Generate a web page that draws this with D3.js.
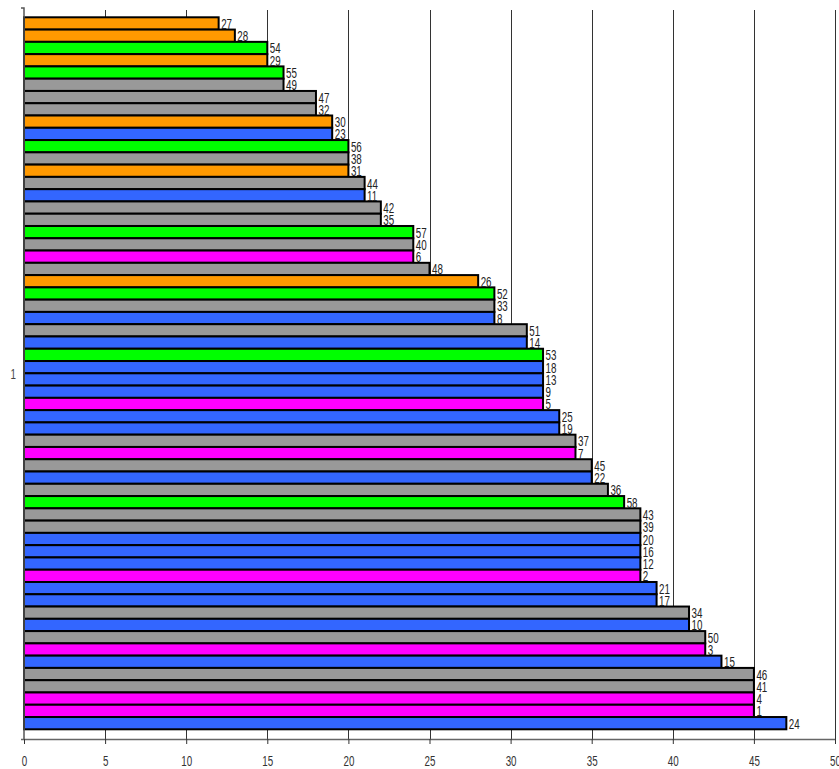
<!DOCTYPE html>
<html>
<head>
<meta charset="utf-8">
<script src="https://cdn.jsdelivr.net/npm/d3@7"></script>
<style>
  html, body { margin: 0; padding: 0; background: #fff; }
  svg { display: block; }
  text { font-family: "Liberation Sans", Arial, sans-serif; }
</style>
</head>
<body>
<svg id="chart" width="839" height="769"></svg>
<script>
// ---- data (top to bottom) ----
const categories = ["1"];
const barLabels = [27, 28, 54, 29, 55, 49, 47, 32, 30, 23, 56, 38, 31, 44, 11, 42, 35, 57, 40, 6,
  48, 26, 52, 33, 8, 51, 14, 53, 18, 13, 9, 5, 25, 19, 37, 7, 45, 22, 36, 58,
  43, 39, 20, 16, 12, 2, 21, 17, 34, 10, 50, 3, 15, 46, 41, 4, 1, 24];
const barValues = [12, 13, 15, 15, 16, 16, 18, 18, 19, 19, 20, 20, 20, 21, 21, 22, 22, 24, 24, 24,
  25, 28, 29, 29, 29, 31, 31, 32, 32, 32, 32, 32, 33, 33, 34, 34, 35, 35, 36, 37,
  38, 38, 38, 38, 38, 38, 39, 39, 41, 41, 42, 42, 43, 45, 45, 45, 45, 47];
// group of each label (by id range)
const groupNames = ["A", "B", "C", "D", "E"];
const groupColors = ["#FF00FF", "#3366FF", "#FF9900", "#999999", "#00FF00"];
const groupStarts = [1, 8, 26, 32, 52];
const xTicks = [0, 5, 10, 15, 20, 25, 30, 35, 40, 45, 50];

function groupOf(label) {
  let g = 0;
  groupStarts.forEach((s, i) => { if (label >= s) g = i; });
  return groupNames[g];
}

const svg = d3.select("#chart");
const mLeft = 24, mRight = 835, mTop = 10, mBottom = 739;
const SX = 0.7; // horizontal condense factor for the narrow font look

const x = d3.scaleLinear().domain([0, 50]).range([mLeft, mRight]);
const yCat = d3.scaleBand().domain(categories).range([mTop, mBottom]);
const yBar = d3.scaleBand().domain(d3.range(barValues.length))
  .range([7.3, yCat.bandwidth() - 9.7]).padding(0);
const color = d3.scaleOrdinal().domain(groupNames).range(groupColors);

// gridlines
svg.append("g").selectAll("line").data(xTicks.slice(1)).join("line")
  .attr("x1", d => Math.round(x(d)) + 0.5).attr("x2", d => Math.round(x(d)) + 0.5)
  .attr("y1", mTop).attr("y2", mBottom)
  .attr("stroke", "#333").attr("stroke-width", 1);

// bars
const gBars = svg.append("g").attr("transform", `translate(0,${yCat("1")})`);
const data = barValues.map((v, i) => ({ v, label: barLabels[i], i }));
gBars.selectAll("rect").data(data).join("rect")
  .attr("x", x(0))
  .attr("y", d => yBar(d.i))
  .attr("width", d => x(d.v) - x(0))
  .attr("height", yBar.bandwidth())
  .attr("fill", d => color(groupOf(d.label)))
  .attr("stroke", "#000").attr("stroke-width", 2);

gBars.selectAll("text").data(data).join("text")
  .attr("transform", d => `translate(${x(d.v) + 2.5},${yBar(d.i) + yBar.bandwidth() / 2 + 5.5}) scale(${SX},1)`)
  .attr("font-size", 14)
  .attr("fill", "#222")
  .text(d => d.label);

// x axis
const xAxis = svg.append("g").attr("transform", `translate(0,${mBottom})`)
  .call(d3.axisBottom(x).tickValues(xTicks).tickSize(5).tickSizeOuter(0).tickPadding(12));
xAxis.select(".domain").attr("stroke", "#666").attr("stroke-width", 1.5)
  .attr("d", `M${mLeft - 3},0.5H${mRight}`);
xAxis.selectAll(".tick line").attr("stroke", "#333");
xAxis.selectAll(".tick text").attr("font-size", 14).attr("fill", "#333")
  .attr("transform", `scale(${SX},1)`);

// y axis
const yAxis = svg.append("g").attr("transform", `translate(${mLeft},0)`)
  .call(d3.axisLeft(yCat).tickSize(0).tickSizeOuter(3).tickPadding(8));
yAxis.select(".domain").attr("stroke", "#555").attr("stroke-width", 1.5)
  .attr("d", `M-3,${mTop - 2}H0V${mBottom}`);
yAxis.selectAll(".tick text").attr("font-size", 14).attr("fill", "#444")
  .attr("transform", `translate(-8,0) scale(${SX},1)`).attr("x", 0);
</script>
</body>
</html>
